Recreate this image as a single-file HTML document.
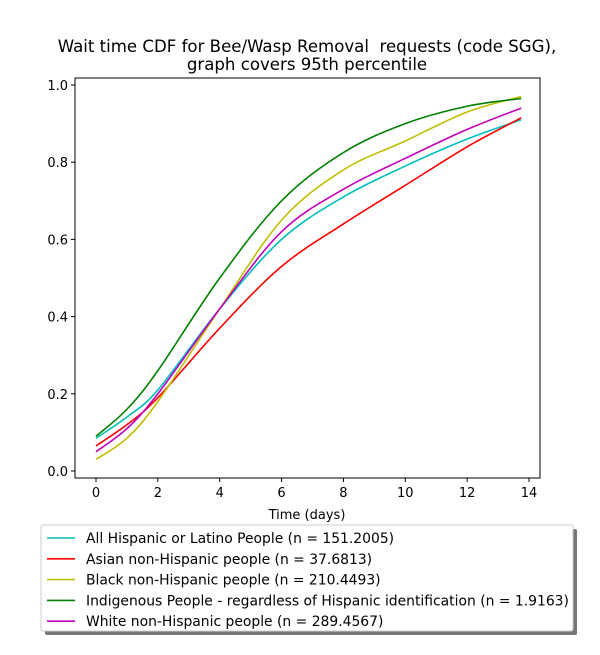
<!DOCTYPE html>
<html><head><meta charset="utf-8"><style>
body{margin:0;background:#fff;font-family:"Liberation Sans","DejaVu Sans",sans-serif;}
svg text{font-family:"DejaVu Sans","Liberation Sans",sans-serif;}
</style></head><body>
<svg id="c" width="600" height="650" xmlns="http://www.w3.org/2000/svg">
<rect width="600" height="650" fill="#fff"/>
<text x="307" y="52" font-size="16.6" text-anchor="middle" style="white-space:pre">Wait time CDF for Bee/Wasp Removal  requests (code SGG),</text>
<text x="307" y="70" font-size="16.6" text-anchor="middle">graph covers 95th percentile</text>
<g id="plot"></g>
<rect x="75" y="78" width="465" height="400" fill="none" stroke="#000" stroke-width="1"/>
<text x="307" y="519" font-size="13" text-anchor="middle">Time (days)</text>
<g>
<rect x="45" y="529" width="532" height="106" fill="#777" rx="2"/>
<rect x="41" y="525" width="532" height="106" fill="#fff" stroke="#ccc" rx="2"/>
<g id="leg"></g>
</g>
</svg>
<script>
const xs=[0,1,2,4,6,8,10,12,13.75];
const names=["All Hispanic or Latino People (n = 151.2005)","Asian non-Hispanic people (n = 37.6813)","Black non-Hispanic people (n = 210.4493)","Indigenous People - regardless of Hispanic identification (n = 1.9163)","White non-Hispanic people (n = 289.4567)"];
const colors=["#00bfbf","#ff0000","#bfbf00","#008000","#bf00bf"];
const sHisp=[0.085,0.14,0.21,0.42,0.60,0.71,0.79,0.86,0.91];
const sAsian=[0.065,0.12,0.19,0.37,0.53,0.64,0.74,0.84,0.915];
const sBlack=[0.03,0.085,0.18,0.42,0.65,0.78,0.855,0.93,0.97];
const sIndig=[0.09,0.16,0.26,0.50,0.70,0.825,0.90,0.945,0.965];
const sWhite=[0.05,0.11,0.20,0.42,0.62,0.73,0.81,0.885,0.94];
const series=[sHisp,sAsian,sBlack,sIndig,sWhite];
const xTicks=[0,2,4,6,8,10,12,14];
const yTicks=[0,0.2,0.4,0.6,0.8,1.0];
const X=v=>96+v*(529-96)/14, Y=v=>471-v*386;
const NS="http://www.w3.org/2000/svg";
const plot=document.getElementById('plot');
function mk(t,a,p){const e=document.createElementNS(NS,t);for(const k in a)e.setAttribute(k,a[k]);p.appendChild(e);return e;}
xTicks.forEach(t=>{
 const l=mk('line',{x1:X(t),x2:X(t),y1:478,y2:482,stroke:'#000'},plot);
 
 
 const tx=mk('text',{x:X(t),y:497,'font-size':13,'text-anchor':'middle'},plot);tx.textContent=t;
 
 
});
yTicks.forEach(t=>{
 const l=mk('line',{x1:71,x2:75,y1:Y(t),y2:Y(t),stroke:'#000'},plot);
 
 
 const tx=mk('text',{x:68,y:Y(t)+5,'font-size':13,'text-anchor':'end'},plot);tx.textContent=t.toFixed(1);
 
 
});
function path(ys){
 const p=xs.map((x,i)=>[X(x),Y(ys[i])]);
 let d=`M${p[0][0]},${p[0][1]}`;
 for(let i=0;i<p.length-1;i++){
  const p0=p[Math.max(0,i-1)],p1=p[i],p2=p[i+1],p3=p[Math.min(p.length-1,i+2)];
  d+=` C${p1[0]+(p2[0]-p0[0])/6},${p1[1]+(p2[1]-p0[1])/6} ${p2[0]-(p3[0]-p1[0])/6},${p2[1]-(p3[1]-p1[1])/6} ${p2[0]},${p2[1]}`;
 }
 return d;
}
series.forEach((s,i)=>{
 const e=mk('path',{d:path(s),fill:'none',stroke:colors[i],'stroke-width':1.6},plot);
 
 
});
const leg=document.getElementById('leg');
names.forEach((n,i)=>{
 const y=538+i*20.8;
 const l=mk('line',{x1:47,x2:75,y1:y,y2:y,stroke:colors[i],'stroke-width':1.6},leg);
 
 
 const t=mk('text',{x:86,y:y+5,'font-size':13.9},leg);t.textContent=n;
 
 
});
</script>
</body></html>
